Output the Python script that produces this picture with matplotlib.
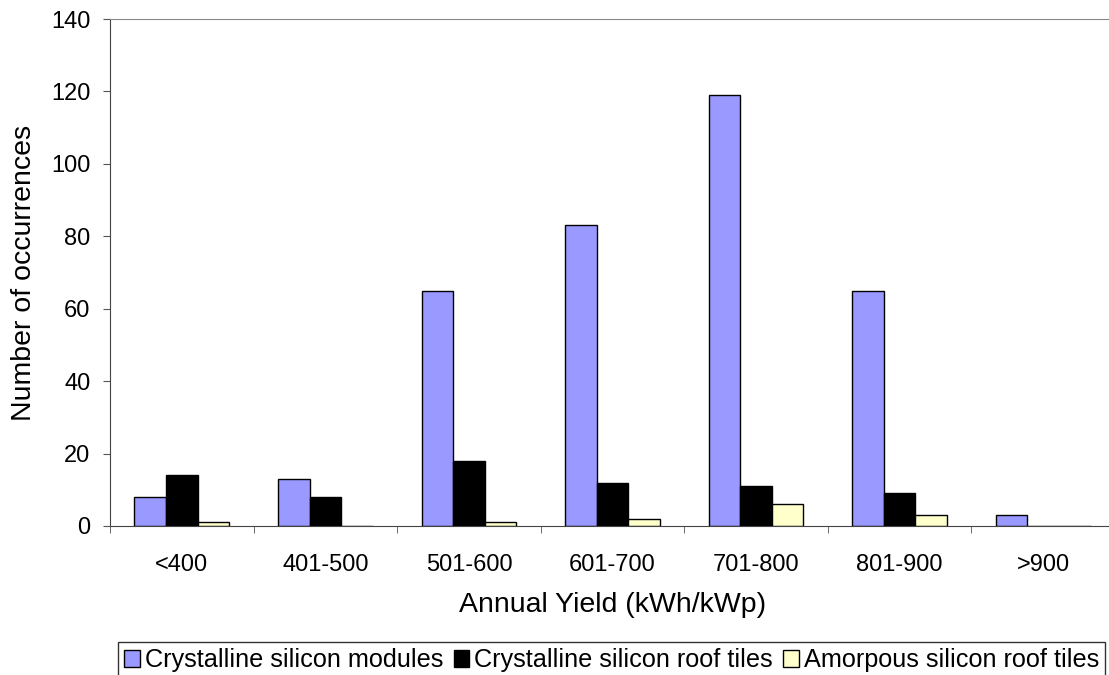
import matplotlib
matplotlib.use("Agg")
import matplotlib.pyplot as plt
import numpy as np

plt.rcParams['font.family'] = ['Liberation Sans', 'DejaVu Sans']

categories = ["<400", "401-500", "501-600", "601-700", "701-800", "801-900", ">900"]
cs_modules = [8, 13, 65, 83, 119, 65, 3]
cs_roof_tiles = [14, 8, 18, 12, 11, 9, 0]
amorph_roof_tiles = [1, 0, 1, 2, 6, 3, 0]
series_names = ["Crystalline silicon modules", "Crystalline silicon roof tiles", "Amorpous silicon roof tiles"]
colors = ["#9999FF", "#000000", "#FFFFCC"]

W, H = 1109, 675
fig = plt.figure(figsize=(W / 100, H / 100), dpi=100)
left, right, top, bottom = 110, 1115, 19, 526
ax = fig.add_axes([left / W, 1 - bottom / H, (right - left) / W, (bottom - top) / H])

x = np.arange(len(categories))
bw = 0.22
for i, (vals, c, name) in enumerate(zip([cs_modules, cs_roof_tiles, amorph_roof_tiles], colors, series_names)):
    ax.bar(x + (i - 1) * bw, vals, width=bw, color=c, edgecolor="black", linewidth=1.0, label=name)

ax.set_xlim(-0.5, len(categories) - 0.5)
ax.set_ylim(0, 140)
ax.set_yticks(range(0, 141, 20))
ax.set_xticks(x)
ax.set_xticklabels(categories, fontsize=17)
ax.set_xticks(np.arange(-0.5, len(categories) + 0.5, 1), minor=True)
ax.tick_params(axis='x', which='major', length=0, pad=20)
ax.tick_params(axis='x', which='minor', length=5, direction='out', color='#555555')
ax.tick_params(axis='y', length=5, direction='out', labelsize=17, color='#555555', pad=9)
for s in ['left', 'bottom']:
    ax.spines[s].set_color('#444444')
ax.spines['top'].set_color('#888888')
ax.spines['right'].set_visible(False)

ax.set_ylabel("Number of occurrences", fontsize=20.5, labelpad=10)
ax.set_xlabel("Annual Yield (kWh/kWp)", fontsize=20.5, labelpad=12)

leg = fig.legend(loc='upper left', bbox_to_anchor=(118 / W, 1 - 642 / H), ncol=3,
                 fontsize=18.2, frameon=True, fancybox=False, edgecolor='black',
                 handlelength=0.62, handleheight=0.62, handletextpad=0.2, columnspacing=0.4,
                 borderpad=0.25, borderaxespad=0)
leg.get_frame().set_linewidth(1.0)

fig.savefig("out.png", dpi=100)
